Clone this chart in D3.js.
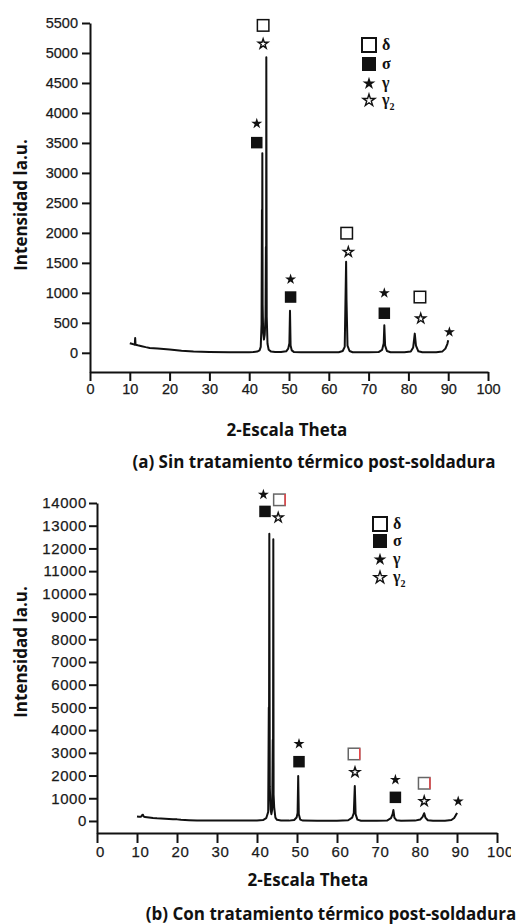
<!DOCTYPE html>
<html>
<head>
<meta charset="utf-8">
<script src="https://cdn.jsdelivr.net/npm/d3@7"></script>
<style>
  body { margin: 0; background: #fff; }
  svg { display: block; }
  .tick text { font-family: "Liberation Sans", Arial, sans-serif; fill: #1a1a1a; stroke: #1a1a1a; stroke-width: 0.25px; }
  .title { font-family: "Open Sans", "Noto Sans", sans-serif; font-weight: 700; fill: #111; }
  .phase { font-family: "Liberation Serif", "DejaVu Serif", serif; font-weight: 700; font-size: 16px; fill: #111; }
</style>
</head>
<body>
<svg id="chart" width="522" height="924"></svg>
<script>
// ---- data -------------------------------------------------------------
const xTicks = [0, 10, 20, 30, 40, 50, 60, 70, 80, 90, 100];
const yTicksA = [0, 500, 1000, 1500, 2000, 2500, 3000, 3500, 4000, 4500, 5000, 5500];
const yTicksB = [0, 1000, 2000, 3000, 4000, 5000, 6000, 7000, 8000, 9000, 10000, 11000, 12000, 13000, 14000];

// (a) without post-weld heat treatment: 2θ (deg) and intensity (a.u.)
const thetaA = [10.0, 10.5, 11.0, 11.25, 11.35, 11.45, 12, 13, 14, 15, 17, 20, 23, 26, 30, 35, 40, 41, 42, 42.6, 42.9,
  43.1, 43.2, 43.25, 43.3, 43.38, 43.5, 43.7, 43.9, 44.1, 44.2, 44.25, 44.3, 44.4, 44.6, 44.9, 45.5, 46.5, 48,
  49.3, 49.8, 50.1, 50.25, 50.4, 50.7, 51.2, 53, 56, 60, 62.5, 63.5, 64.0, 64.35, 64.45, 64.7, 65.2, 66, 70,
  72.5, 73.4, 73.8, 73.95, 74.15, 74.6, 75.5, 79, 80.6, 81.2, 81.6, 81.9, 82.5, 83.5, 87, 88.5, 89.3, 89.8, 90.0];
const intensityA = [160, 150, 140, 135, 245, 135, 125, 110, 95, 82, 70, 55, 35, 20, 12, 8, 8, 12, 20, 40, 100,
  480, 2380, 1200, 3330, 800, 350, 220, 300, 600, 1770, 1100, 4930, 600, 150, 50, 20, 12, 12,
  25, 70, 160, 700, 120, 40, 15, 8, 8, 8, 10, 30, 100, 1520, 880, 120, 30, 10, 8,
  12, 50, 160, 460, 120, 30, 10, 8, 20, 90, 320, 120, 25, 8, 8, 20, 70, 150, 210];

// (b) with post-weld heat treatment
const thetaB = [10.0, 10.5, 11.0, 11.3, 11.5, 11.7, 12, 13, 14, 15, 17, 19, 20, 21, 23, 25, 28, 32, 36, 40, 41.5,
  42.3, 42.8, 42.95, 43.0, 43.08, 43.2, 43.4, 43.6, 43.8, 43.95, 44.0, 44.08, 44.15, 44.3, 44.6, 45, 46, 48,
  49.3, 49.9, 50.15, 50.3, 50.45, 50.8, 51.5, 55, 60, 62.8, 63.8, 64.2, 64.45, 64.65, 65.1, 66, 70,
  72.5, 73.5, 73.9, 74.1, 74.35, 74.9, 76, 79.5, 80.8, 81.4, 81.8, 82.1, 82.7, 84, 87, 88.6, 89.3, 89.8, 90.0];
const intensityB = [200, 190, 185, 260, 270, 190, 170, 150, 130, 115, 95, 80, 70, 50, 35, 25, 20, 18, 18, 22, 40,
  120, 400, 5000, 2500, 12650, 1500, 500, 300, 500, 3570, 1800, 12400, 1150, 600, 150, 50, 20, 15,
  40, 150, 350, 1980, 300, 60, 15, 10, 10, 30, 150, 350, 1540, 300, 60, 12, 10,
  20, 120, 300, 480, 150, 30, 10, 15, 60, 180, 340, 150, 30, 10, 10, 40, 130, 280, 360];

// phase markers over the peaks: [phase, 2θ, intensity]
const markersA = [
  ["delta", 43.5, 5460], ["gamma2", 43.5, 5160], ["gamma", 41.9, 3830], ["sigma", 41.9, 3505],
  ["gamma", 50.4, 1235], ["sigma", 50.4, 930],
  ["delta", 64.5, 1995], ["gamma2", 64.9, 1690],
  ["gamma", 73.95, 1005], ["sigma", 73.95, 660],
  ["delta", 82.9, 930], ["gamma2", 83.1, 580],
  ["gamma", 90.3, 355]
];
const markersB = [
  ["gamma", 41.6, 14390], ["delta", 45.6, 14140], ["sigma", 42.0, 13630], ["gamma2", 45.3, 13380],
  ["gamma", 50.5, 3420], ["sigma", 50.5, 2610],
  ["delta", 64.25, 2950], ["gamma2", 64.5, 2170],
  ["gamma", 74.6, 1840], ["sigma", 74.6, 1040],
  ["delta", 81.8, 1660], ["gamma2", 81.8, 890],
  ["gamma", 90.3, 890]
];

const legendPhases = ["delta", "sigma", "gamma", "gamma2"];
const legendLabels = ["δ", "σ", "γ", "γ"];

const xTitle = "2-Escala Theta";
const yTitle = "Intensidad la.u.";
const captionA = "(a) Sin tratamiento térmico post-soldadura";
const captionB = "(b) Con tratamiento térmico post-soldadura";

// ---- drawing ----------------------------------------------------------
const svg = d3.select("#chart");

function phaseMark(g, phase, cx, cy, big, redEdge) {
  const sq = big ? 14 : 11.5;
  if (phase === "delta") {
    g.append("rect").attr("x", cx - sq / 2).attr("y", cy - sq / 2).attr("width", sq).attr("height", sq)
      .attr("fill", "#fff").attr("stroke", redEdge ? "#666" : "#111").attr("stroke-width", big ? 2 : 1.5);
    if (redEdge) {
      g.append("line").attr("x1", cx + sq / 2).attr("x2", cx + sq / 2)
        .attr("y1", cy - sq / 2).attr("y2", cy + sq / 2)
        .attr("stroke", "#e8474a").attr("stroke-width", 1.5);
    }
  } else if (phase === "sigma") {
    g.append("rect").attr("x", cx - sq / 2).attr("y", cy - sq / 2).attr("width", sq).attr("height", sq)
      .attr("fill", "#111");
  } else if (phase === "gamma") {
    g.append("path").attr("d", d3.symbol(d3.symbolStar).size(big ? 52 : 38)())
      .attr("transform", `translate(${cx},${cy + 0.5})`).attr("fill", "#111");
  } else {
    g.append("path").attr("d", d3.symbol(d3.symbolStar).size(big ? 44 : 30)())
      .attr("transform", `translate(${cx},${cy + 0.5})`)
      .attr("fill", "#fff").attr("stroke", "#111").attr("stroke-width", 1.4);
  }
}

function drawPanel(p) {
  const x = d3.scaleLinear().domain([0, 100]).range([p.left, p.right]);
  const y = d3.scaleLinear().domain([p.yMin, p.yTicks[p.yTicks.length - 1]]).range([p.bottom, p.top]);
  const g = svg.append("g");

  if (p.clipRight) {
    const id = "clip-" + p.name;
    svg.append("clipPath").attr("id", id).append("rect")
      .attr("x", 0).attr("y", 0).attr("width", p.clipRight).attr("height", 924);
    g.attr("clip-path", `url(#${id})`);
  }

  const xAxis = g.append("g").attr("transform", `translate(0,${p.bottom})`)
    .call(d3.axisBottom(x).tickValues(xTicks).tickSize(p.xTickLen).tickSizeOuter(0).tickPadding(3));
  const yAxis = g.append("g").attr("transform", `translate(${p.left},0)`)
    .call(d3.axisLeft(y).tickValues(p.yTicks).tickSize(8).tickSizeOuter(0).tickPadding(p.yPad).tickFormat(d3.format("d")));
  [xAxis, yAxis].forEach(a => {
    a.select(".domain").attr("stroke", "#111").attr("stroke-width", 2);
    a.selectAll(".tick line").attr("stroke", "#111").attr("stroke-width", 2);
    a.selectAll(".tick text").attr("font-size", p.tickFont).attr("letter-spacing", p.tickSpacing);
  });
  xAxis.selectAll(".tick text").attr("dx", p.xLabelShift);

  const line = d3.line().x(d => x(d[0])).y(d => y(d[1]));
  g.append("path").datum(d3.zip(p.theta, p.intensity))
    .attr("d", line).attr("fill", "none").attr("stroke", "#111")
    .attr("stroke-width", 2).attr("stroke-linejoin", "round");

  p.markers.forEach(m => phaseMark(g, m[0], x(m[1]), y(m[2]), false, p.redEdge));

  // legend
  legendPhases.forEach((ph, i) => {
    const ly = p.legendY + i * p.legendStep[i];
    phaseMark(g, ph, p.legendX, ly, true, false);
    const t = g.append("text").attr("class", "phase")
      .attr("x", p.legendX + 13).attr("y", ly + 5).text(legendLabels[i]);
    if (ph === "gamma2") t.append("tspan").attr("dy", 5).attr("font-size", 10).text("2");
  });

  // titles sit outside the clipped group
  const tg = svg.append("g");
  tg.append("text").attr("class", "title").attr("font-size", 17)
    .attr("text-anchor", "middle").attr("x", p.xTitleX).attr("y", p.xTitleY).text(xTitle);
  tg.append("text").attr("class", "title").attr("font-size", 17)
    .attr("text-anchor", "middle")
    .attr("transform", `translate(${p.yTitleX},${p.yTitleY}) rotate(-90)`).text(yTitle);
  tg.append("text").attr("class", "title").attr("font-size", 17)
    .attr("text-anchor", "middle").attr("x", p.capX).attr("y", p.capY).text(p.caption);
}

drawPanel({
  name: "a", theta: thetaA, intensity: intensityA, markers: markersA, yTicks: yTicksA,
  left: 90, right: 488, top: 23, bottom: 372, yMin: -320, xTickLen: 9, yPad: 4, xLabelShift: 0,
  tickFont: 14.5, tickSpacing: 0,
  legendX: 369, legendY: 45, legendStep: [0, 19, 19, 18.3],
  xTitleX: 287, xTitleY: 436, yTitleX: 27, yTitleY: 205,
  caption: captionA, capX: 314, capY: 468, redEdge: false
});

drawPanel({
  name: "b", theta: thetaB, intensity: intensityB, markers: markersB, yTicks: yTicksB,
  left: 97, right: 497, top: 503, bottom: 833, yMin: -530, xTickLen: 10, yPad: 2, xLabelShift: 3,
  tickFont: 15, tickSpacing: 0.6,
  legendX: 380, legendY: 524, legendStep: [0, 17, 17.5, 17.7],
  xTitleX: 308, xTitleY: 886, yTitleX: 27, yTitleY: 652,
  caption: captionB, capX: 331, capY: 920, redEdge: true, clipRight: 511
});
</script>
</body>
</html>
